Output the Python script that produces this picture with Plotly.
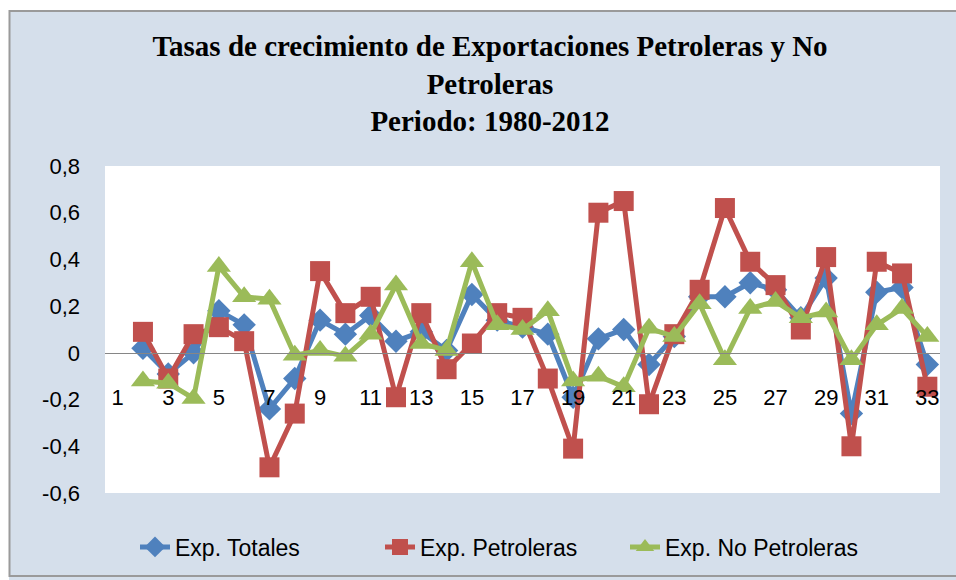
import plotly.graph_objects as go

categories = ["1", "2", "3", "4", "5", "6", "7", "8", "9", "10", "11", "12", "13", "14", "15", "16", "17",
              "18", "19", "20", "21", "22", "23", "24", "25", "26", "27", "28", "29", "30", "31", "32", "33"]

exp_totales = [None, 0.02, -0.09, 0.00, 0.18, 0.12, -0.24, -0.11, 0.14, 0.08, 0.16, 0.05, 0.09, 0.01,
               0.25, 0.14, 0.11, 0.08, -0.19, 0.06, 0.10, -0.05, 0.07, 0.24, 0.24, 0.30, 0.27, 0.15,
               0.32, -0.26, 0.26, 0.28, -0.05]

exp_petroleras = [None, 0.09, -0.11, 0.08, 0.11, 0.05, -0.49, -0.26, 0.35, 0.17, 0.24, -0.19, 0.17, -0.07,
                  0.04, 0.17, 0.15, -0.11, -0.41, 0.60, 0.65, -0.22, 0.08, 0.27, 0.62, 0.39, 0.29, 0.10,
                  0.41, -0.40, 0.39, 0.34, -0.145]

exp_no_petroleras = [None, -0.12, -0.13, -0.195, 0.37, 0.24, 0.23, -0.01, 0.01, -0.015, 0.08, 0.29, 0.04,
                     0.01, 0.39, 0.12, 0.10, 0.18, -0.12, -0.10, -0.145, 0.105, 0.07, 0.21, -0.03, 0.19,
                     0.22, 0.15, 0.175, -0.03, 0.12, 0.19, 0.07]

series_names = ["Exp. Totales", "Exp. Petroleras", "Exp. No Petroleras"]
y_tick_vals = [0.8, 0.6, 0.4, 0.2, 0.0, -0.2, -0.4, -0.6]
y_tick_text = ["0,8", "0,6", "0,4", "0,2", "0", "-0,2", "-0,4", "-0,6"]
title_lines = ["Tasas de crecimiento de Exportaciones Petroleras y No", "Petroleras", "Periodo: 1980-2012"]

colors = ["#4F81BD", "#C0504D", "#9BBB59"]
symbols = ["diamond", "square", "triangle-up"]
sizes = [18, 20, 21]

W, H = 956, 580
ML, MR, MT, MB = 105, 16, 166, 87
pw, ph = W - ML - MR, H - MT - MB

def px2paper_x(px):
    return (px - ML) / pw

def py2paper_y(py):
    return (H - MB - py) / ph

fig = go.Figure()
for name, vals, c, s, sz in zip(series_names, [exp_totales, exp_petroleras, exp_no_petroleras],
                                colors, symbols, sizes):
    fig.add_trace(go.Scatter(
        x=categories, y=vals, name=name, mode="lines+markers",
        line=dict(color=c, width=5),
        marker=dict(symbol=s, size=sz, color=c),
        connectgaps=False,
    ))

bg = "#D5DFEB"
fig.update_layout(
    width=W, height=H,
    margin=dict(l=ML, r=MR, t=MT, b=MB, pad=0),
    paper_bgcolor=bg,
    plot_bgcolor="white",
    font=dict(family="Liberation Sans, Arial, sans-serif", size=22, color="black"),
    title=dict(
        text="<br>".join(title_lines),
        x=490 / W, xanchor="center", xref="container",
        y=1 - 56 / H, yanchor="top", yref="container",
        font=dict(family="Liberation Serif, Times New Roman, serif", size=29, color="black", weight="bold"),
    ),
    showlegend=True,
    legend=dict(
        orientation="h",
        x=px2paper_x(135), xanchor="left",
        y=py2paper_y(547), yanchor="middle",
        font=dict(size=23),
        entrywidth=200,
        bgcolor="rgba(0,0,0,0)",
        itemwidth=30,
    ),
    xaxis=dict(
        type="category",
        range=[-0.5, 32.5],
        anchor="free",
        position=(0 - (-0.6)) / 1.4,
        showline=True, linecolor="#868686", linewidth=1.5,
        showgrid=False, zeroline=False,
        ticks="",
        tickmode="array",
        tickvals=categories[::2],
        ticktext=categories[::2],
        ticklabelstandoff=24,
        tickfont=dict(size=22),
        fixedrange=True,
    ),
    yaxis=dict(
        range=[-0.6, 0.8],
        tickmode="array",
        tickvals=y_tick_vals,
        ticktext=y_tick_text,
        showgrid=False, zeroline=False, showline=False,
        ticks="",
        ticklabelstandoff=24,
        tickfont=dict(size=22),
        fixedrange=True,
    ),
    shapes=[
        # white strip outside chart border (top and left)
        dict(type="rect", xref="paper", yref="paper",
             x0=px2paper_x(-5), x1=px2paper_x(W + 5), y0=py2paper_y(10), y1=py2paper_y(-5),
             fillcolor="white", line=dict(width=0), layer="below"),
        dict(type="rect", xref="paper", yref="paper",
             x0=px2paper_x(-5), x1=px2paper_x(9), y0=py2paper_y(H + 5), y1=py2paper_y(-5),
             fillcolor="white", line=dict(width=0), layer="below"),
        # chart border
        dict(type="rect", xref="paper", yref="paper",
             x0=px2paper_x(9.5), x1=px2paper_x(W + 4), y0=py2paper_y(576), y1=py2paper_y(11),
             fillcolor="rgba(0,0,0,0)", line=dict(color="#9A9A9A", width=2), layer="below"),
    ],
)

fig.write_html(
    "out.html",
    config={"displayModeBar": False, "staticPlot": True},
    post_script="document.body.style.margin='0';document.body.style.overflow='hidden';",
)
